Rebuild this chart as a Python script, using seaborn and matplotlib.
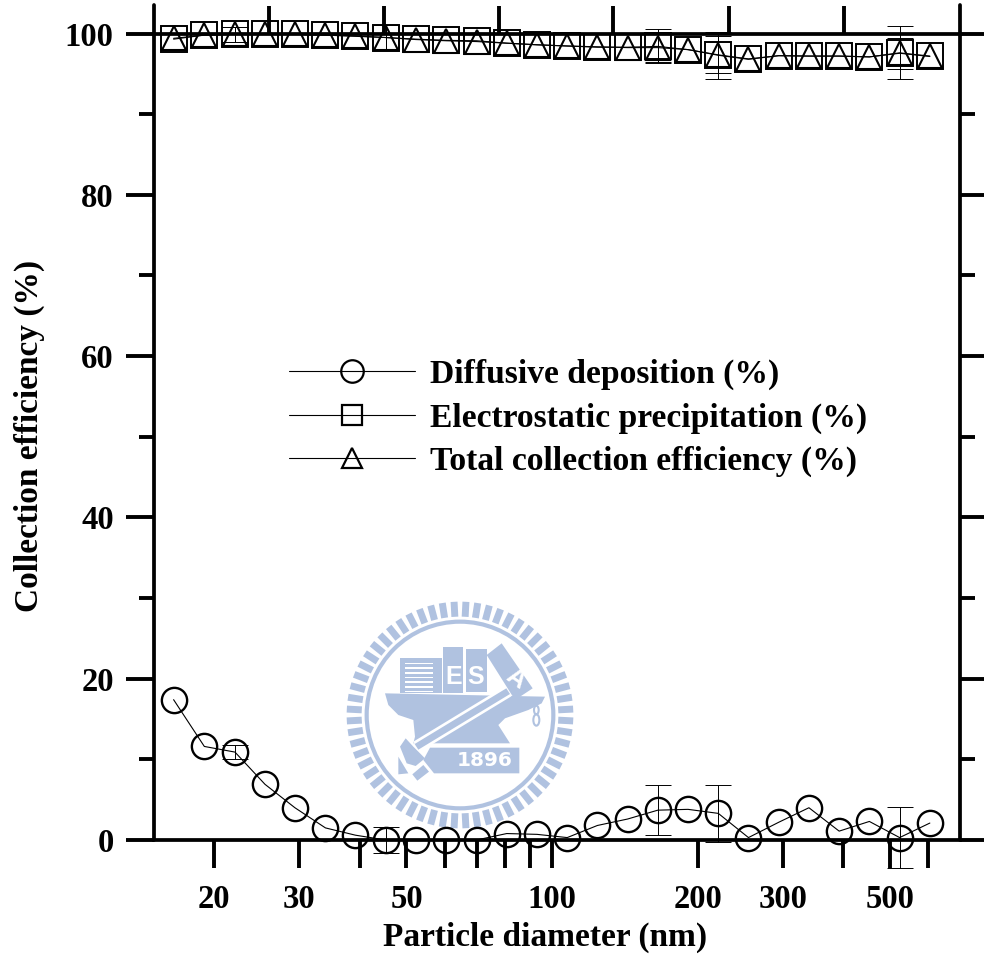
import numpy as np
import matplotlib
matplotlib.use('Agg')
import matplotlib.pyplot as plt
from matplotlib.lines import Line2D
from matplotlib.patches import Polygon, Rectangle, Circle, Ellipse
import seaborn as sns

# particle diameter channels (nm)
diameter = [16.5, 19.1, 22.1, 25.5, 29.4, 34.0, 39.2, 45.3, 52.3, 60.4, 69.8, 80.6, 93.1,
            107.5, 124.1, 143.3, 165.5, 191.1, 220.7, 254.8, 294.3, 339.8, 392.4, 453.1, 523.3, 604.3]

diffusive = [17.4, 11.6, 10.9, 6.9, 4.0, 1.5, 0.6, 0.0, 0.0, 0.0, 0.0, 0.8, 0.7,
             0.3, 1.8, 2.6, 3.7, 3.8, 3.3, 0.3, 2.2, 4.0, 1.1, 2.3, 0.3, 2.1]
electrostatic = [99.3, 99.8, 99.9, 99.9, 99.9, 99.8, 99.65, 99.5, 99.3, 99.15, 99.1, 98.8, 98.6,
                 98.45, 98.3, 98.3, 98.4, 98.0, 97.3, 96.8, 97.25, 97.2, 97.2, 97.1, 97.6, 97.2]
total = [99.4, 99.8, 99.9, 99.9, 99.9, 99.8, 99.7, 99.5, 99.25, 99.1, 99.0, 98.8, 98.6,
         98.45, 98.35, 98.25, 98.25, 98.0, 97.35, 96.85, 97.25, 97.2, 97.2, 97.1, 97.55, 97.15]

# error bars only exist on a few channels
err_diameter = [22.1, 45.3, 165.5, 220.7, 523.3]
diffusive_mean = [10.9, 0.0, 3.7, 3.3, 0.3]
diffusive_err = [0.9, 1.6, 3.1, 3.5, 3.8]
electrostatic_mean = [99.9, 99.5, 98.4, 97.3, 97.6]
electrostatic_err = [0.9, 1.6, 2.1, 2.9, 3.3]
total_mean = [99.9, 99.5, 98.25, 97.35, 97.55]
total_err = [0.9, 1.6, 1.8, 2.3, 1.9]

x_ticks = [20, 30, 40, 50, 60, 70, 80, 90, 100, 200, 300, 400, 500, 600]
x_labels = ['20', '30', '', '50', '', '', '', '', '100', '200', '300', '', '500', '']
top_ticks = [26.0, 44.9, 77.8, 134, 232, 402]
y_major = [0, 20, 40, 60, 80, 100]
y_minor = [10, 30, 50, 70, 90]

legend_labels = ['Diffusive deposition (%)', 'Electrostatic precipitation (%)',
                 'Total collection efficiency (%)']

sns.set_theme(style='ticks')
plt.rcParams['font.family'] = ['Liberation Serif', 'DejaVu Serif']
plt.rcParams['font.weight'] = 'bold'
plt.rcParams['axes.unicode_minus'] = False
plt.rcParams['text.color'] = 'black'
plt.rcParams['axes.labelcolor'] = 'black'
plt.rcParams['xtick.color'] = 'black'
plt.rcParams['ytick.color'] = 'black'

fig = plt.figure(figsize=(9.84, 9.55), dpi=100)

# ── university seal behind the plot ──
seal_color = '#b0c2e0'
logo = fig.add_axes([340 / 984, 1 - 835 / 955, 240 / 984, 240 / 955], zorder=0)
logo.set_xlim(0, 720)
logo.set_ylim(720, 0)
logo.axis('off')

for a in np.arange(0, 360, 6):
    ca, sa = np.cos(np.radians(a + 3)), np.sin(np.radians(a + 3))
    logo.plot([360 + 295 * ca, 360 + 340 * ca], [360 + 295 * sa, 360 + 340 * sa],
              color=seal_color, lw=5, solid_capstyle='butt')
logo.add_patch(Circle((360, 360), 280, fill=False, ec=seal_color, lw=3))

seal_shapes = [
    ([(135, 295), (615, 305), (605, 325), (565, 345), (495, 370), (475, 390), (510, 445), (310, 445),
      (220, 445), (225, 425), (220, 375), (175, 360), (145, 330)], seal_color),  # anvil
    ([(220, 440), (495, 273), (514, 304), (239, 471)], 'white'),
    ([(224, 447), (499, 280), (510, 297), (235, 464)], seal_color),  # handle
    ([(180, 455), (197, 430), (220, 455), (255, 490), (227, 513), (200, 505)], seal_color),
    ([(175, 485), (205, 535), (175, 538)], seal_color),
    ([(217, 538), (250, 510), (267, 530), (232, 557)], seal_color),
    ([(250, 495), (270, 458), (538, 458), (538, 535), (282, 535)], seal_color),  # date plate
    ([(440, 180), (485, 145), (578, 280), (525, 315)], seal_color),
]
for pts, col in seal_shapes:
    logo.add_patch(Polygon(pts, fc=col, ec='none'))
logo.add_patch(Rectangle((180, 190), 125, 105, fc=seal_color, ec='none'))
for i in range(7):
    logo.add_patch(Rectangle((195, 203 + i * 14), 85, 5, fc='white', ec='none'))
logo.add_patch(Rectangle((308, 157), 62, 138, fc=seal_color, ec='none'))
logo.add_patch(Rectangle((378, 162), 62, 130, fc=seal_color, ec='none'))
logo.add_patch(Ellipse((589, 345), 14, 26, fill=False, ec=seal_color, lw=1.5))
logo.add_patch(Ellipse((589, 375), 18, 34, fill=False, ec=seal_color, lw=1.5))
seal_text = dict(color='white', ha='center', va='center', weight='bold')
logo.text(342, 245, 'E', fontsize=18, family='Liberation Sans', **seal_text)
logo.text(408, 245, 'S', fontsize=18, family='Liberation Sans', **seal_text)
logo.text(527, 250, 'A', fontsize=18, rotation=-35, family='Liberation Sans', **seal_text)
logo.text(435, 497, '1896', fontsize=14.5, family='DejaVu Sans', **seal_text)

# ── main axes ──
ax = fig.add_axes([154 / 984, (955 - 840) / 955, 806 / 984, (840 - 33.5) / 955], zorder=1)
ax.patch.set_alpha(0)
ax.set_xscale('log')

series = [(diffusive, 'o', 18.2, 1.7), (electrostatic, 's', 18.2, 1.4), (total, '^', 17, 1.5)]
for values, mark, size, edge in series:
    sns.lineplot(x=diameter, y=values, ax=ax, color='black', lw=0.8, marker=mark, markersize=size,
                 markerfacecolor='none', markeredgecolor='black', markeredgewidth=edge,
                 errorbar=None, legend=False, clip_on=False)

for means, errs in [(diffusive_mean, diffusive_err), (electrostatic_mean, electrostatic_err),
                    (total_mean, total_err)]:
    eb = ax.errorbar(err_diameter, means, yerr=errs, fmt='none', ecolor='black',
                     elinewidth=0.7, capsize=9.7, capthick=0.7)
    for part in list(eb[1]) + list(eb[2]):
        part.set_clip_on(False)

ax.set_xlim(15.03, 697.6)
ax.set_ylim(0, 100)
ax.set_xticks(x_ticks, x_labels)
ax.set_xticks([], minor=True)
ax.set_yticks(y_major)
ax.set_yticks(y_minor, minor=True)
ax.tick_params(axis='x', which='major', length=20, width=2.8, pad=12, labelsize=23.5, color='black')
ax.tick_params(axis='y', which='major', left=True, right=True, length=20, width=2.8, pad=9,
               labelsize=23.5, color='black')
ax.tick_params(axis='y', which='minor', left=True, right=True, length=10.8, width=2.8, color='black')

for side in ['left', 'right', 'top', 'bottom']:
    ax.spines[side].set_linewidth(2.7)
    ax.spines[side].set_color('black')
ax.spines['left'].set_bounds(0, 103.5)
ax.spines['right'].set_bounds(0, 103.5)
ax.spines['left'].set_capstyle('round')
ax.spines['right'].set_capstyle('round')

top = ax.twiny()
top.set_xscale('log')
top.set_xlim(ax.get_xlim())
top.set_xticks(top_ticks, [''] * len(top_ticks))
top.set_xticks([], minor=True)
top.tick_params(axis='x', which='major', top=True, length=20, width=2.8, color='black')
top.set_zorder(0)
for s in top.spines.values():
    s.set_visible(False)

ax.set_xlabel('Particle diameter (nm)', fontsize=24, fontweight='bold', color='black')
ax.xaxis.set_label_coords((545 - 154) / 806, -(922 - 840) / 806.5)
ax.set_ylabel('Collection efficiency (%)', fontsize=24, fontweight='bold', color='black')
ax.yaxis.set_label_coords((29 - 154) / 806, (840 - 436) / 806.5)
ax.yaxis.label.set_va('center')

handles = [Line2D([], [], color='black', lw=0.8, marker=m, markersize=s, markerfacecolor='none',
                  markeredgecolor='black', markeredgewidth=1.6)
           for m, s in [('o', 16.2), ('s', 15), ('^', 14.5)]]
ax.legend(handles, legend_labels, loc='center left', bbox_to_anchor=(289 / 984, 1 - 418 / 955),
          bbox_transform=fig.transFigure, frameon=False, fontsize=24.2, borderpad=0, borderaxespad=0,
          handlelength=3.75, handletextpad=0.45, labelspacing=0.37, labelcolor='black')

fig.savefig('out.png', dpi=100)
